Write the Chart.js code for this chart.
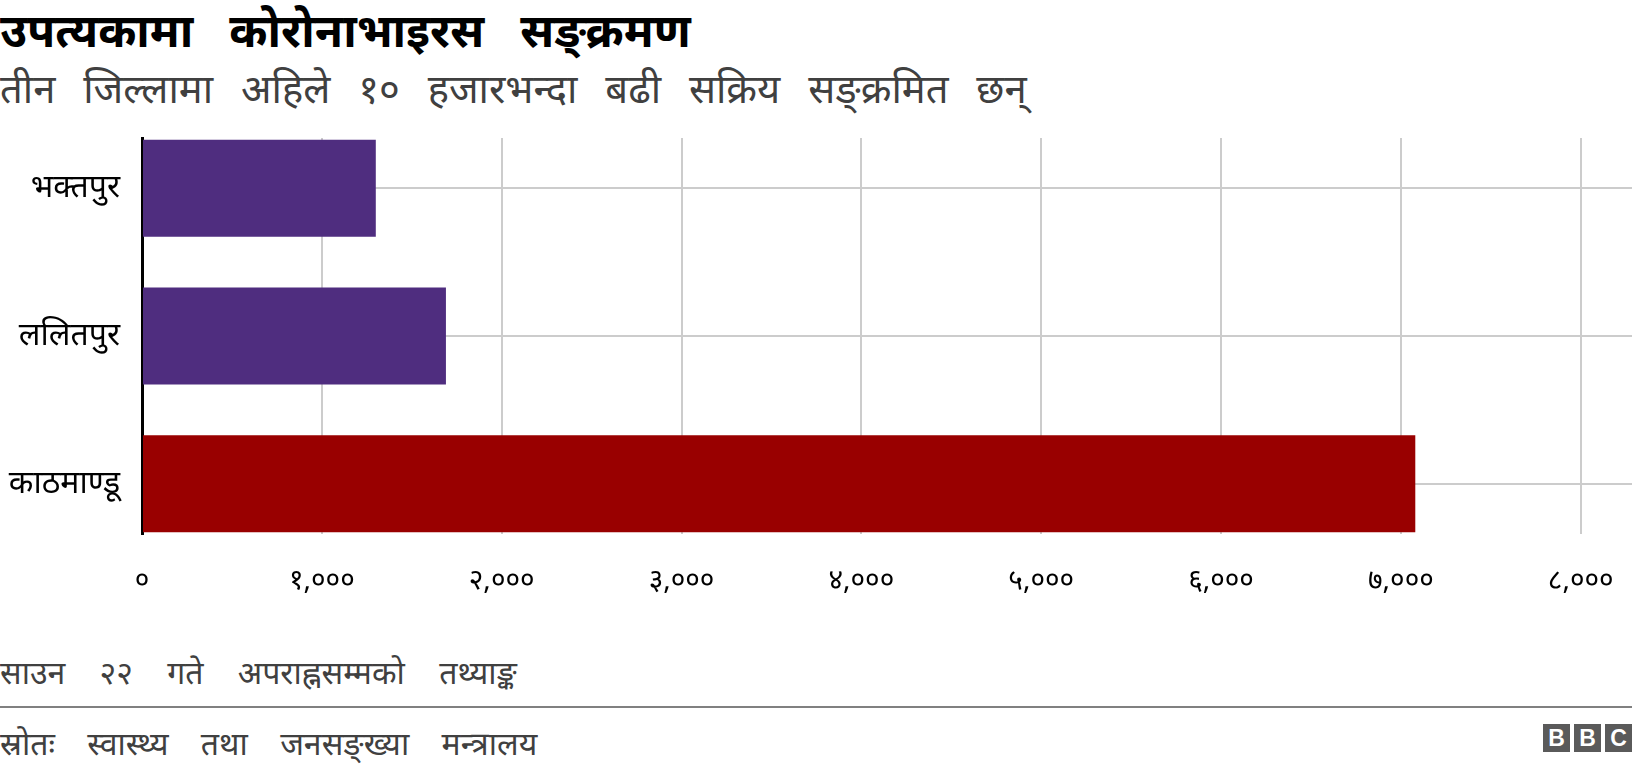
<!DOCTYPE html>
<html>
<head>
<meta charset="utf-8">
<script src="https://cdn.jsdelivr.net/npm/chart.js@4.4.1/dist/chart.umd.min.js"></script>
<style>
  body { margin: 0; background: #fff; width: 1632px; height: 774px; overflow: hidden; position: relative; font-family: "Noto Sans", "DejaVu Sans", sans-serif; }
  .txt { position: absolute; left: 0; white-space: nowrap; }
  #title { top: -2px; font-size: 46px; font-weight: bold; color: #000; word-spacing: 24px; }
  #subtitle { top: 60px; font-size: 40px; color: #404040; word-spacing: 17.5px; }
  #note { top: 650px; font-size: 32px; color: #404040; word-spacing: 26px; }
  #rule { position: absolute; left: 0; top: 706px; width: 1632px; height: 2px; background: #808080; }
  #source { top: 721px; font-size: 32px; color: #404040; word-spacing: 24px; }
  #bbc { position: absolute; right: 0; top: 724px; display: flex; gap: 4px; }
  #bbc span { width: 27px; height: 28px; background: #5a5a5a; color: #fff; font: bold 23px "Liberation Sans", Arial, sans-serif; text-align: center; line-height: 28px; }
  #chart { position: absolute; left: 0; top: 0; }
</style>
</head>
<body>
<div class="txt" id="title">उपत्यकामा कोरोनाभाइरस सङ्क्रमण</div>
<div class="txt" id="subtitle">तीन जिल्लामा अहिले १० हजारभन्दा बढी सक्रिय सङ्क्रमित छन्</div>
<canvas id="chart" width="1632" height="640"></canvas>
<div class="txt" id="note">साउन २२ गते अपराह्नसम्मको तथ्याङ्क</div>
<div id="rule"></div>
<div class="txt" id="source">स्रोतः स्वास्थ्य तथा जनसङ्ख्या मन्त्रालय</div>
<div id="bbc"><span>B</span><span>B</span><span>C</span></div>
<script>
// districts, top to bottom
const districts = ['भक्तपुर', 'ललितपुर', 'काठमाण्डू'];
const activeCases = [1300, 1690, 7080];
const barColors = ['#4f2d7f', '#4f2d7f', '#990000'];
const xTickValues = [0, 1000, 2000, 3000, 4000, 5000, 6000, 7000, 8000];
const xTickLabels = ['०', '१,०००', '२,०००', '३,०००', '४,०००', '५,०००', '६,०००', '७,०००', '८,०००'];

const ctx = document.getElementById('chart').getContext('2d');
new Chart(ctx, {
    type: 'bar',
    data: {
        datasets: [{
            data: activeCases.map((v, i) => ({ x: v, y: i })),
            backgroundColor: barColors,
            borderWidth: 0,
            categoryPercentage: 1,
            barPercentage: 0.656
        }]
    },
    options: {
        indexAxis: 'y',
        responsive: false,
        animation: false,
        layout: { padding: { top: 138, bottom: 46, left: 0, right: 0 } },
        plugins: { legend: { display: false }, tooltip: { enabled: false } },
        scales: {
            x: {
                type: 'linear',
                min: 0,
                max: 8285,
                afterBuildTicks: axis => { axis.ticks = xTickValues.map(v => ({ value: v })); },
                // grid runs to the right edge, labels keep their own room
                afterFit: axis => { axis.height = 60; axis.paddingRight = 0; axis.paddingLeft = 0; },
                grid: { color: '#cccccc', lineWidth: 2, drawTicks: false },
                border: { display: false },
                ticks: {
                    padding: 30,
                    color: '#000',
                    font: { size: 28, family: '"Noto Sans", sans-serif' },
                    callback: v => xTickLabels[xTickValues.indexOf(v)]
                }
            },
            y: {
                type: 'linear',
                reverse: true,
                offset: false,
                min: -0.34,
                max: 2.34,
                afterBuildTicks: axis => { axis.ticks = districts.map((d, i) => ({ value: i })); },
                afterFit: axis => { axis.width = 142; },
                grid: { color: '#cccccc', lineWidth: 2, drawTicks: false, offset: false },
                border: { color: '#000', width: 3 },
                ticks: {
                    padding: 22,
                    color: '#000',
                    font: { size: 32, family: '"Noto Sans", sans-serif' },
                    callback: v => districts[v]
                }
            }
        }
    }
});
</script>
</body>
</html>
